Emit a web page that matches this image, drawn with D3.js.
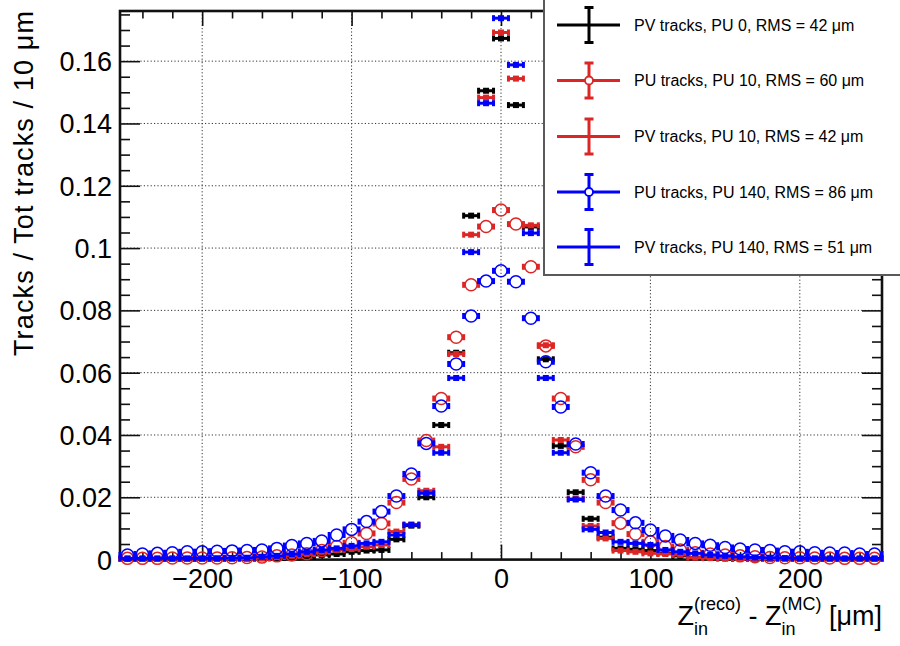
<!DOCTYPE html>
<html>
<head>
<meta charset="utf-8">
<script src="https://cdn.jsdelivr.net/npm/d3@7"></script>
<style>
  html, body { margin: 0; padding: 0; background: #fff; }
  svg { display: block; }
  text { font-family: "Liberation Sans", Arial, Helvetica, sans-serif; fill: #000; white-space: pre; }
</style>
</head>
<body>
<svg id="chart" width="900" height="646"></svg>
<script>
// ---------------- DATA ----------------
const binCenters = [-250,-240,-230,-220,-210,-200,-190,-180,-170,-160,-150,-140,-130,-120,-110,-100,-90,-80,-70,-60,-50,-40,-30,-20,-10,0,10,20,30,40,50,60,70,80,90,100,110,120,130,140,150,160,170,180,190,200,210,220,230,240,250];

const pvPU0 = [0.0002,0.0002,0.0002,0.0002,0.0002,0.0002,0.0003,0.0003,0.0003,0.0004,0.0005,0.0007,0.0009,0.0015,0.0018,0.0025,0.0029,0.0031,0.0065,0.0109,0.0200,0.0432,0.0664,0.1104,0.1505,0.1673,0.1459,0.1068,0.0643,0.0365,0.0216,0.0131,0.0072,0.0036,0.0033,0.0029,0.0020,0.0012,0.0007,0.0005,0.0004,0.0003,0.0003,0.0003,0.0002,0.0002,0.0002,0.0002,0.0002,0.0002,0.0002];

const puPU10 = [0.0004,0.0004,0.0004,0.0005,0.0005,0.0005,0.0005,0.0006,0.0007,0.0008,0.0012,0.0015,0.0019,0.0029,0.0042,0.0054,0.0084,0.0116,0.0183,0.0259,0.0382,0.0517,0.0714,0.0882,0.1069,0.1122,0.1077,0.0940,0.0686,0.0517,0.0362,0.0256,0.0183,0.0117,0.0082,0.0057,0.0042,0.0031,0.0022,0.0018,0.0015,0.0012,0.0009,0.0007,0.0006,0.0006,0.0005,0.0005,0.0004,0.0004,0.0004];

const pvPU10 = [0.0002,0.0002,0.0002,0.0002,0.0002,0.0002,0.0002,0.0003,0.0003,0.0005,0.0008,0.0012,0.0018,0.0025,0.0031,0.0034,0.0041,0.0047,0.0090,0.0113,0.0221,0.0362,0.0660,0.1043,0.1483,0.1692,0.1544,0.1073,0.0688,0.0384,0.0195,0.0108,0.0068,0.0029,0.0025,0.0020,0.0018,0.0015,0.0006,0.0005,0.0004,0.0004,0.0003,0.0003,0.0002,0.0002,0.0002,0.0002,0.0002,0.0002,0.0002];

const puPU140 = [0.0015,0.0018,0.0020,0.0022,0.0025,0.0025,0.0027,0.0028,0.0029,0.0031,0.0036,0.0045,0.0052,0.0060,0.0079,0.0097,0.0122,0.0154,0.0204,0.0275,0.0373,0.0493,0.0628,0.0782,0.0894,0.0927,0.0892,0.0775,0.0635,0.0490,0.0371,0.0279,0.0204,0.0159,0.0118,0.0095,0.0076,0.0063,0.0052,0.0046,0.0039,0.0034,0.0031,0.0029,0.0025,0.0025,0.0022,0.0021,0.0021,0.0018,0.0018];

const pvPU140 = [0.0004,0.0004,0.0004,0.0004,0.0004,0.0004,0.0004,0.0005,0.0006,0.0009,0.0012,0.0018,0.0025,0.0031,0.0036,0.0044,0.0052,0.0057,0.0079,0.0111,0.0213,0.0343,0.0583,0.0987,0.1465,0.1738,0.1588,0.1048,0.0583,0.0343,0.0193,0.0097,0.0087,0.0057,0.0052,0.0047,0.0031,0.0025,0.0020,0.0015,0.0012,0.0009,0.0007,0.0006,0.0005,0.0004,0.0004,0.0004,0.0004,0.0004,0.0004];

const seriesNames = [
  "PV tracks, PU 0, RMS = 42 \u03bcm",
  "PU tracks, PU 10, RMS = 60 \u03bcm",
  "PV tracks, PU 10, RMS = 42 \u03bcm",
  "PU tracks, PU 140, RMS = 86 \u03bcm",
  "PV tracks, PU 140, RMS = 51 \u03bcm"
];
const seriesColors = ["#000000", "#dc2626", "#dc2626", "#0000ff", "#0000ff"];
const seriesOpen = [false, true, false, true, false];
const seriesValues = [pvPU0, puPU10, pvPU10, puPU140, pvPU140];

const xMajorTicks = [-200, -100, 0, 100, 200];
const xMinorTicks = [-240,-220,-180,-160,-140,-120,-80,-60,-40,-20,20,40,60,80,120,140,160,180,220,240];
const yMajorTicks = [0, 0.02, 0.04, 0.06, 0.08, 0.1, 0.12, 0.14, 0.16];
const yTickLabels = ["0", "0.02", "0.04", "0.06", "0.08", "0.1", "0.12", "0.14", "0.16"];
const yMinorTicks = [0.005,0.01,0.015,0.025,0.03,0.035,0.045,0.05,0.055,0.065,0.07,0.075,0.085,0.09,0.095,0.105,0.11,0.115,0.125,0.13,0.135,0.145,0.15,0.155,0.165,0.17,0.175];
const binWidth = 10;

// ---------------- LAYOUT ----------------
const L = 120, R = 882, T = 11, B = 559.6;
const svg = d3.select("#chart");
const x = d3.scaleLinear().domain([-255, 255]).range([L, R]);
const y = d3.scaleLinear().domain([0, 0.1761]).range([B, T]);

// grid
const grid = svg.append("g").attr("stroke", "#333").attr("stroke-width", 1).attr("stroke-dasharray", "1.2,2.2");
grid.selectAll("line.vx").data(xMajorTicks).join("line")
  .attr("x1", d => x(d)).attr("x2", d => x(d)).attr("y1", T).attr("y2", B);
grid.selectAll("line.hy").data(yMajorTicks.filter(d => d > 0)).join("line")
  .attr("x1", L).attr("x2", R).attr("y1", d => y(d)).attr("y2", d => y(d));

// axes (ticks inward)
function styleAxis(g, showLabels) {
  g.select(".domain").remove();
  g.selectAll(".tick line").attr("stroke", "#111").attr("stroke-width", 1.6);
  if (!showLabels) g.selectAll(".tick text").remove();
}
const yLabelMap = new Map(yMajorTicks.map((v, i) => [v, yTickLabels[i]]));
const fmtX = d => (d < 0 ? "\u2212" + Math.abs(d) : String(d));

// bottom
svg.append("g").attr("transform", `translate(0,${B})`)
  .call(d3.axisBottom(x).tickValues(xMinorTicks).tickSize(-7.5).tickSizeOuter(0).tickFormat(""))
  .call(g => styleAxis(g, false));
const xb = svg.append("g").attr("transform", `translate(0,${B})`)
  .call(d3.axisBottom(x).tickValues(xMajorTicks).tickSize(-15).tickSizeOuter(0).tickFormat(fmtX).tickPadding(0))
  .call(g => styleAxis(g, true));
xb.selectAll(".tick text").attr("font-size", 27).attr("y", 28).attr("dy", 0)
  .attr("font-family", "'Liberation Sans', Arial, sans-serif").attr("fill", "#000");
// top
svg.append("g").attr("transform", `translate(0,${T})`)
  .call(d3.axisTop(x).tickValues(xMinorTicks).tickSize(-7.5).tickSizeOuter(0).tickFormat(""))
  .call(g => styleAxis(g, false));
svg.append("g").attr("transform", `translate(0,${T})`)
  .call(d3.axisTop(x).tickValues(xMajorTicks).tickSize(-15).tickSizeOuter(0).tickFormat(""))
  .call(g => styleAxis(g, false));
// left
svg.append("g").attr("transform", `translate(${L},0)`)
  .call(d3.axisLeft(y).tickValues(yMinorTicks).tickSize(-10).tickSizeOuter(0).tickFormat(""))
  .call(g => styleAxis(g, false));
const yl = svg.append("g").attr("transform", `translate(${L},0)`)
  .call(d3.axisLeft(y).tickValues(yMajorTicks).tickSize(-20).tickSizeOuter(0).tickFormat(d => yLabelMap.get(d)).tickPadding(0))
  .call(g => styleAxis(g, true));
yl.selectAll(".tick text").attr("font-size", 27).attr("x", -8).attr("dy", "0.35em")
  .attr("font-family", "'Liberation Sans', Arial, sans-serif").attr("fill", "#000");
// right
svg.append("g").attr("transform", `translate(${R},0)`)
  .call(d3.axisRight(y).tickValues(yMinorTicks).tickSize(-10).tickSizeOuter(0).tickFormat(""))
  .call(g => styleAxis(g, false));
svg.append("g").attr("transform", `translate(${R},0)`)
  .call(d3.axisRight(y).tickValues(yMajorTicks).tickSize(-20).tickSizeOuter(0).tickFormat(""))
  .call(g => styleAxis(g, false));

// frame
svg.append("rect").attr("x", L).attr("y", T).attr("width", R - L).attr("height", B - T)
  .attr("fill", "none").attr("stroke", "#111").attr("stroke-width", 2.6);

// ---------------- DATA MARKS ----------------
const halfBinPx = (x(binWidth) - x(0)) / 2;
const marks = svg.append("g");
seriesValues.forEach((vals, si) => {
  const col = seriesColors[si];
  const open = seriesOpen[si];
  const pts = binCenters.map((c, i) => ({ c, v: vals[i] }));
  const g = marks.append("g");
  const p = g.selectAll("g.pt").data(pts).join("g")
    .attr("transform", d => `translate(${x(d.c)},${y(d.v)})`);
  const r = 6;
  if (open) {
    p.append("line").attr("x1", -halfBinPx).attr("x2", -r).attr("y1", 0).attr("y2", 0)
      .attr("stroke", col).attr("stroke-width", 3);
    p.append("line").attr("x1", r).attr("x2", halfBinPx).attr("y1", 0).attr("y2", 0)
      .attr("stroke", col).attr("stroke-width", 3);
  } else {
    p.append("line").attr("x1", -halfBinPx).attr("x2", halfBinPx).attr("y1", 0).attr("y2", 0)
      .attr("stroke", col).attr("stroke-width", 3);
    p.append("rect").attr("x", -3).attr("y", -3).attr("width", 6).attr("height", 6).attr("fill", col);
  }
  p.append("rect").attr("x", -halfBinPx - 1.5).attr("y", -3).attr("width", 3).attr("height", 6).attr("fill", col);
  p.append("rect").attr("x", halfBinPx - 1.5).attr("y", -3).attr("width", 3).attr("height", 6).attr("fill", col);
  if (open) {
    p.append("circle").attr("r", r).attr("fill", "none").attr("stroke", col).attr("stroke-width", 1.5);
  }
});

// ---------------- LEGEND ----------------
const lg = svg.append("g");
lg.append("rect").attr("x", 544).attr("y", -4).attr("width", 380).attr("height", 279)
  .attr("fill", "#fff").attr("stroke", "#5a5a5a").attr("stroke-width", 2);
const legY = [25, 80.5, 136.5, 192, 247];
seriesNames.forEach((name, i) => {
  const col = seriesColors[i];
  const cy = legY[i], cx = 589;
  const e = lg.append("g");
  e.append("line").attr("x1", 557).attr("x2", 620).attr("y1", cy).attr("y2", cy).attr("stroke", col).attr("stroke-width", 3);
  e.append("line").attr("x1", cx).attr("x2", cx).attr("y1", cy - 17.5).attr("y2", cy + 17.5).attr("stroke", col).attr("stroke-width", 3);
  e.append("line").attr("x1", cx - 4.5).attr("x2", cx + 4.5).attr("y1", cy - 17.5).attr("y2", cy - 17.5).attr("stroke", col).attr("stroke-width", 3);
  e.append("line").attr("x1", cx - 4.5).attr("x2", cx + 4.5).attr("y1", cy + 17.5).attr("y2", cy + 17.5).attr("stroke", col).attr("stroke-width", 3);
  if (seriesOpen[i]) {
    e.append("circle").attr("cx", cx).attr("cy", cy).attr("r", 4).attr("fill", "#fff").attr("stroke", col).attr("stroke-width", 1.8);
  }
  e.append("text").attr("x", 634).attr("y", cy + 5.8).attr("font-size", 16).text(name);
});

// ---------------- AXIS TITLES ----------------
svg.append("text").attr("transform", `translate(33,11) rotate(-90)`)
  .attr("text-anchor", "end").attr("font-size", 27)
  .attr("textLength", 345).attr("lengthAdjust", "spacing")
  .text("Tracks / Tot tracks / 10 \u03bcm");

// x title: Z_in^(reco) - Z_in^(MC) [μm], right-aligned at R
const xt = svg.append("g");
let cur = 0;
const base = 625;
function addMain(str) {
  const t = xt.append("text").attr("x", cur).attr("y", base).attr("font-size", 27).text(str);
  cur += t.node().getComputedTextLength();
}
function addSubSup(sub, sup) {
  const a = xt.append("text").attr("x", cur).attr("y", base - 15).attr("font-size", 18).text(sup);
  const b = xt.append("text").attr("x", cur).attr("y", base + 10).attr("font-size", 18).text(sub);
  cur += Math.max(a.node().getComputedTextLength(), b.node().getComputedTextLength());
}
addMain("Z");
addSubSup("in", "(reco)");
addMain(" - Z");
addSubSup("in", "(MC)");
addMain(" [\u03bcm]");
xt.attr("transform", `translate(${R - cur},0)`);
</script>
</body>
</html>
